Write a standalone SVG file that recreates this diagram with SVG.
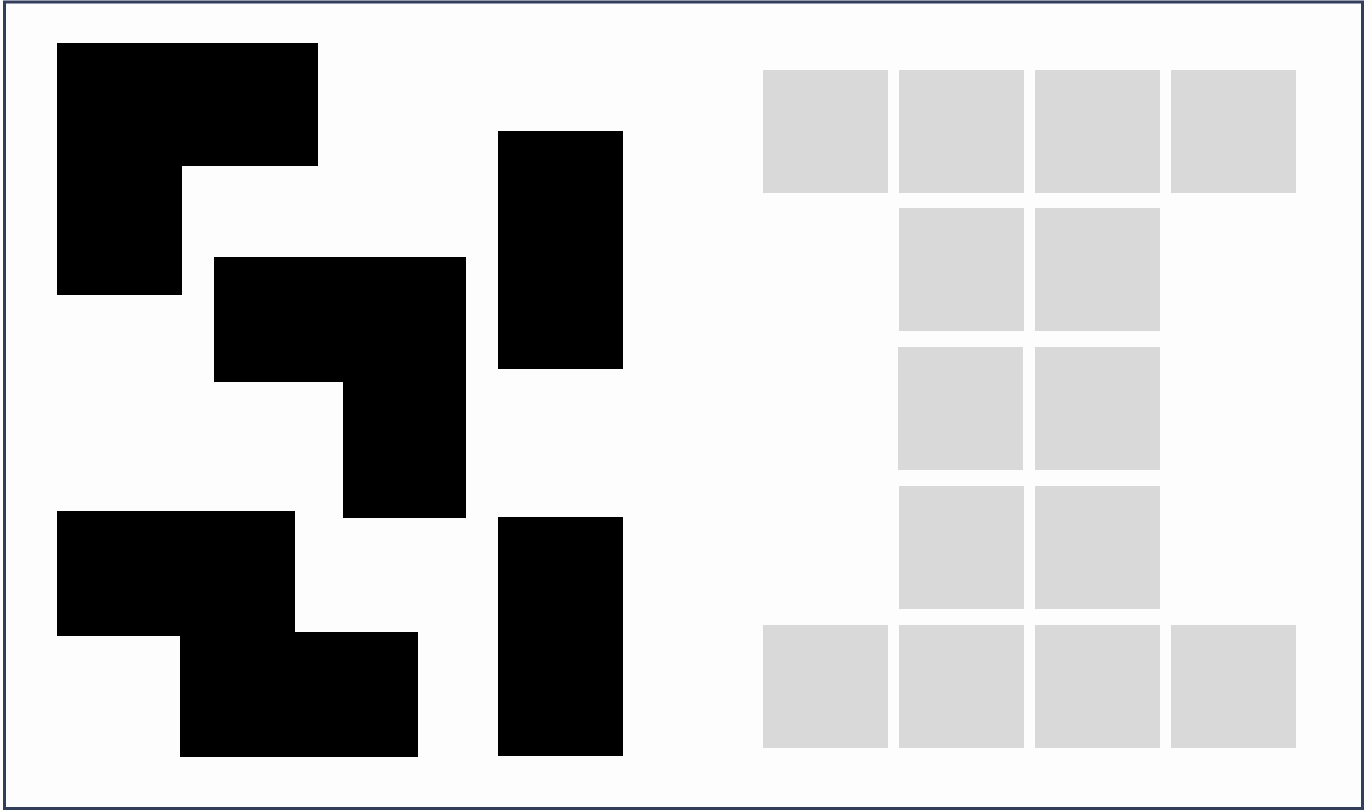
<svg xmlns="http://www.w3.org/2000/svg" width="1372" height="810" viewBox="0 0 1372 810">
<style>
.piece{fill:#000000;stroke:none}
.cell{fill:#d9d9d9;stroke:none}
</style>
<rect x="0" y="0" width="1372" height="810" fill="#fdfdfd"/>
<rect id="frame" x="4.5" y="2" width="1358" height="806.5" fill="#fdfdfd" stroke="#333d5c" stroke-width="3"/>
<g id="piece-l1"><path class="piece" d="M57,43 H318 V166 H182 V295 H57 Z"/></g>
<g id="piece-l2"><path class="piece" d="M214,257 H466 V518 H343 V382 H214 Z"/></g>
<g id="piece-s"><path class="piece" d="M57,511 H295 V632 H418 V757 H180 V636 H57 Z"/></g>
<g id="piece-i1"><rect class="piece" x="498" y="131" width="125" height="238"/></g>
<g id="piece-i2"><rect class="piece" x="498" y="517" width="125" height="239"/></g>
<g id="target">
<rect class="cell" x="763" y="70" width="125" height="123"/>
<rect class="cell" x="899" y="70" width="125" height="123"/>
<rect class="cell" x="1035" y="70" width="125" height="123"/>
<rect class="cell" x="1171" y="70" width="125" height="123"/>
<rect class="cell" x="899" y="208" width="125" height="123"/>
<rect class="cell" x="1035" y="208" width="125" height="123"/>
<rect class="cell" x="898" y="347" width="125" height="123"/>
<rect class="cell" x="1035" y="347" width="125" height="123"/>
<rect class="cell" x="899" y="486" width="125" height="123"/>
<rect class="cell" x="1035" y="486" width="125" height="123"/>
<rect class="cell" x="763" y="625" width="125" height="123"/>
<rect class="cell" x="899" y="625" width="125" height="123"/>
<rect class="cell" x="1035" y="625" width="125" height="123"/>
<rect class="cell" x="1171" y="625" width="125" height="123"/>
</g>
<g id="connectors"></g>
</svg>
